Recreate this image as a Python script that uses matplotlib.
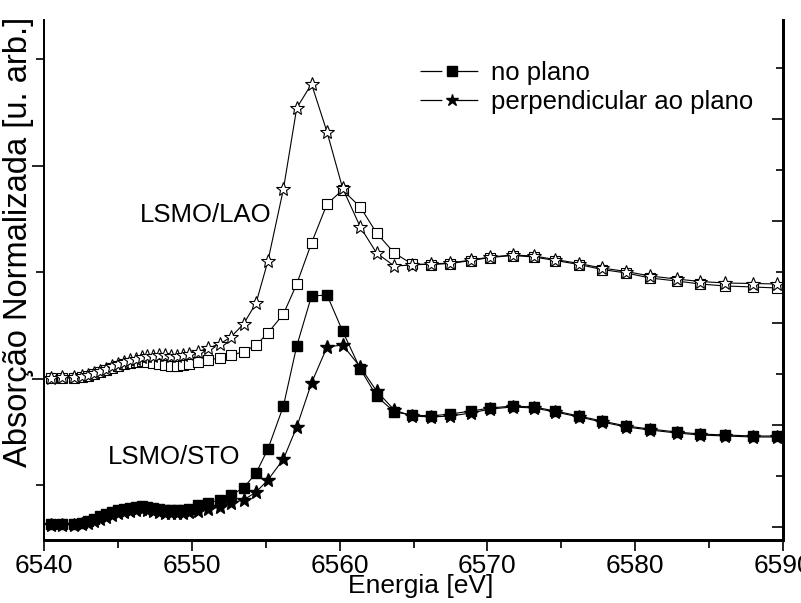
import numpy as np
import matplotlib
matplotlib.use("Agg")
import matplotlib.pyplot as plt
from matplotlib.lines import Line2D
from matplotlib.ticker import FixedLocator, MultipleLocator
from matplotlib.transforms import ScaledTranslation

plt.rcParams['font.family'] = ['Liberation Sans', 'DejaVu Sans']

# energia (eV), grade comum a todas as curvas
energia = [6540.5, 6541.2, 6542.0,
           6542.6, 6543.0, 6543.4, 6543.8, 6544.2, 6544.6, 6545.0, 6545.4, 6545.8, 6546.2,
           6546.6, 6547.0, 6547.4, 6547.8, 6548.2, 6548.6, 6549.0, 6549.4, 6549.8,
           6550.4, 6551.1, 6551.9, 6552.65, 6553.5, 6554.35, 6555.15, 6556.2, 6557.1, 6558.1,
           6559.15, 6560.2, 6561.4, 6562.5, 6563.7, 6564.9, 6566.2, 6567.5, 6568.9, 6570.2,
           6571.7, 6573.15, 6574.6, 6576.2, 6577.75, 6579.4, 6581.0, 6582.8, 6584.4, 6586.1,
           6588.0, 6589.6]

# LSMO/STO
sto_plano = [0.16, 0.16, 0.165,
             0.17, 0.19, 0.21, 0.24, 0.26, 0.28, 0.30, 0.315, 0.325, 0.335,
             0.34, 0.335, 0.325, 0.315, 0.305, 0.30, 0.30, 0.305, 0.31,
             0.35, 0.37, 0.40, 0.45, 0.52, 0.67, 0.91, 1.34, 1.94, 2.44,
             2.45, 2.09, 1.71, 1.44, 1.28, 1.25, 1.24, 1.26, 1.29, 1.32,
             1.34, 1.33, 1.29, 1.24, 1.19, 1.14, 1.11, 1.08, 1.06, 1.05,
             1.04, 1.04]
sto_perp = [0.15, 0.15, 0.155,
            0.16, 0.17, 0.19, 0.21, 0.23, 0.25, 0.27, 0.285, 0.295, 0.305,
            0.31, 0.305, 0.295, 0.285, 0.275, 0.27, 0.27, 0.275, 0.28,
            0.295, 0.31, 0.33, 0.37, 0.40, 0.48, 0.60, 0.81, 1.13, 1.57,
            1.93, 1.95, 1.73, 1.49, 1.30, 1.24, 1.23, 1.24, 1.27, 1.31,
            1.33, 1.32, 1.28, 1.23, 1.18, 1.13, 1.10, 1.07, 1.05, 1.04,
            1.03, 1.03]

# LSMO/LAO
lao_plano = [1.62, 1.62, 1.62,
             1.63, 1.64, 1.66, 1.68, 1.70, 1.725, 1.745, 1.76, 1.775, 1.785,
             1.79, 1.785, 1.775, 1.76, 1.75, 1.745, 1.745, 1.75, 1.76,
             1.78, 1.80, 1.82, 1.85, 1.88, 1.95, 2.07, 2.26, 2.56, 2.97,
             3.36, 3.50, 3.33, 3.07, 2.87, 2.76, 2.755, 2.765, 2.795, 2.825,
             2.845, 2.83, 2.795, 2.755, 2.705, 2.67, 2.62, 2.59, 2.56, 2.54,
             2.53, 2.52]
lao_perp = [1.62, 1.63, 1.63,
            1.64, 1.65, 1.67, 1.69, 1.715, 1.74, 1.76, 1.78, 1.80, 1.815,
            1.83, 1.84, 1.845, 1.85, 1.85, 1.845, 1.845, 1.85, 1.86,
            1.88, 1.92, 1.96, 2.03, 2.16, 2.37, 2.79, 3.51, 4.32, 4.56,
            4.08, 3.52, 3.13, 2.87, 2.74, 2.75, 2.76, 2.77, 2.80, 2.83,
            2.85, 2.84, 2.805, 2.765, 2.72, 2.685, 2.64, 2.61, 2.585, 2.57,
            2.565, 2.56]

legenda = ['no plano', 'perpendicular ao plano']

fig = plt.figure(figsize=(8.01, 6.03), dpi=100)
ax = fig.add_axes([44 / 801, 1 - 540 / 603, 739 / 801, 520 / 603])

lw = 0.8
ax.plot(energia, lao_plano, '-', color='black', lw=lw, marker='s', ms=7.5,
        mfc='white', mec='black', mew=0.8)
ax.plot(energia, lao_perp, '-', color='black', lw=lw, marker='*', ms=10,
        mfc='white', mec='black', mew=0.8)
ax.plot(energia, sto_plano, '-', color='black', lw=lw, marker='s', ms=7.5,
        mfc='black', mec='black')
ax.plot(energia, sto_perp, '-', color='black', lw=lw, marker='*', ms=10,
        mfc='black', mec='black')

ax.text(6546.5, 3.25, 'LSMO/LAO', fontsize=18.5, va='center', ha='left')
ax.text(6544.3, 0.83, 'LSMO/STO', fontsize=18.5, va='center', ha='left')

ax.set_xlim(6540, 6590)
ax.set_ylim(0, 5.2)

ax.xaxis.set_major_locator(MultipleLocator(10))
ax.xaxis.set_minor_locator(MultipleLocator(5))
ax.tick_params(axis='x', which='major', direction='out', length=8, width=1.2,
               labelsize=19, pad=2, top=False)
ax.tick_params(axis='x', which='minor', direction='out', length=6, width=1.2, top=False)

# eixo esquerdo sem rotulos
ax.yaxis.set_major_locator(FixedLocator([1.615, 3.745]))
ax.yaxis.set_minor_locator(FixedLocator([0.55, 2.68, 4.81]))
ax.tick_params(axis='y', which='major', direction='out', length=9, width=1.2,
               labelleft=False, right=False)
ax.tick_params(axis='y', which='minor', direction='out', length=6, width=1.2, right=False)

# eixo direito
axr = ax.twinx()
axr.set_ylim(0, 5.2)
axr.yaxis.set_major_locator(FixedLocator([0.13, 1.15, 2.17, 3.19, 4.21]))
axr.yaxis.set_minor_locator(FixedLocator([0.64, 1.66, 2.68, 3.70, 4.72]))
axr.tick_params(axis='y', which='major', direction='in', length=8, width=1.2, labelright=False)
axr.tick_params(axis='y', which='minor', direction='in', length=5, width=1.2)

for a in (ax, axr):
    a.spines['top'].set_visible(False)
    a.spines['left'].set_linewidth(1.3)
    a.spines['right'].set_linewidth(2)
    a.spines['bottom'].set_linewidth(2)

ax.set_xlabel('Energia [eV]', fontsize=19)
ax.xaxis.set_label_coords(0.51, -0.066)
ax.set_ylabel('Absorção Normalizada [u. arb.]', fontsize=23.5)
ax.yaxis.set_label_coords(-0.013, 0.573)

# legenda estilo Origin: tracinho, simbolo, tracinho
handles = [
    Line2D([], [], color='black', lw=0.9, dashes=(17.5, 11.25), marker='s', ms=6.5,
           mfc='black', mec='black'),
    Line2D([], [], color='black', lw=0.9, dashes=(17.5, 11.25), marker='*', ms=9,
           mfc='black', mec='black'),
]
ax.legend(handles, legenda, loc='upper left', bbox_to_anchor=(0.509, 0.922),
          frameon=False, fontsize=18.5, handlelength=2.5, handletextpad=0.25,
          labelspacing=0.2, borderaxespad=0, borderpad=0)

# puxa o ultimo rotulo (6590) um pouco para dentro
fig.canvas.draw()
ultimo = ax.xaxis.get_major_ticks()[-1].label1
ultimo.set_transform(ultimo.get_transform() + ScaledTranslation(-8 / 100, 0, fig.dpi_scale_trans))

fig.savefig('out.png', dpi=100)
